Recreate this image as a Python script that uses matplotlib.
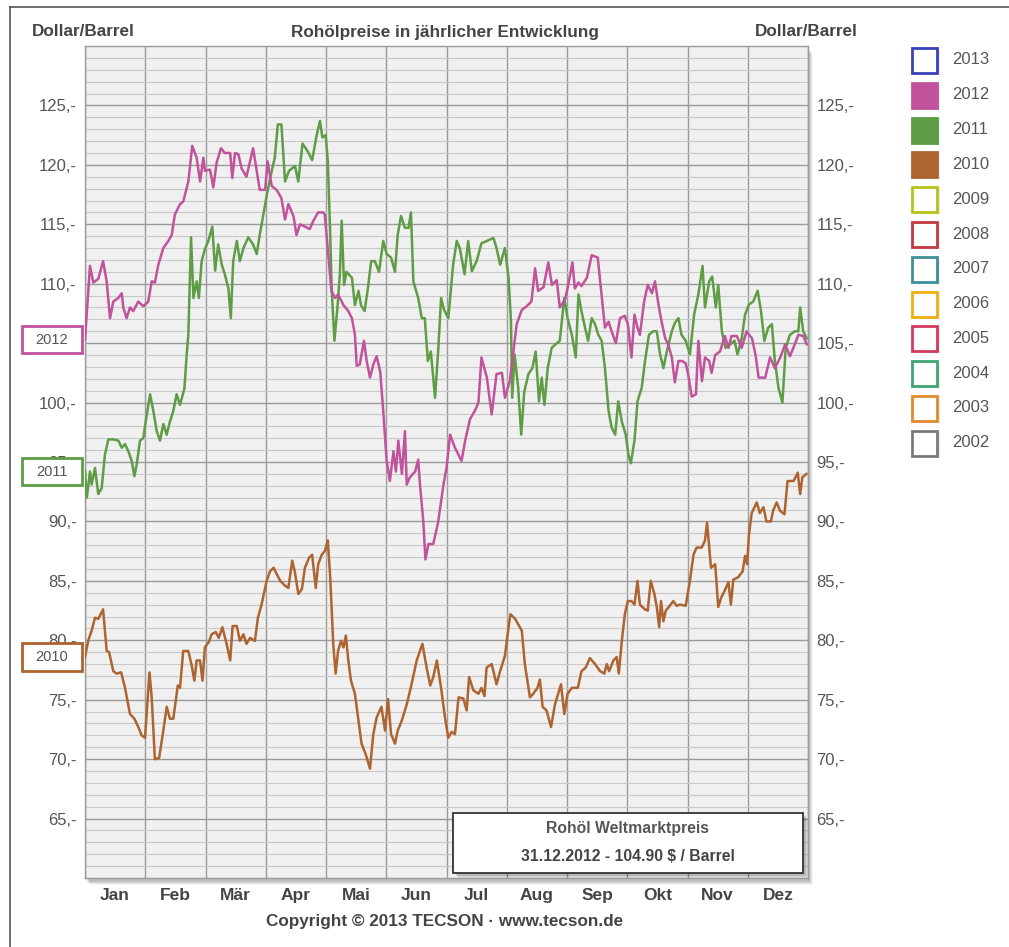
import matplotlib
matplotlib.use("Agg")
import matplotlib.pyplot as plt
import matplotlib.transforms as mtransforms
from matplotlib.patches import Rectangle
from matplotlib.lines import Line2D

plt.rcParams['font.family'] = ['Liberation Sans', 'DejaVu Sans']

# ---- data (x = position in the year in months, y = Dollar/Barrel) ----
months = ['Jan', 'Feb', 'Mär', 'Apr', 'Mai', 'Jun', 'Jul', 'Aug', 'Sep', 'Okt', 'Nov', 'Dez']

x2012 = [0, 0.083, 0.138, 0.22, 0.30, 0.36, 0.415, 0.47, 0.553, 0.61, 0.636, 0.69, 0.747, 0.80, 0.885,
         0.968, 1.05, 1.107, 1.16, 1.217, 1.30, 1.383, 1.44, 1.49, 1.577, 1.63, 1.715, 1.78, 1.853, 1.91,
         1.964, 1.99, 2.075, 2.13, 2.185, 2.257, 2.32, 2.41, 2.445, 2.49, 2.545, 2.60, 2.68, 2.79, 2.90,
         2.99, 3.03, 3.10, 3.18, 3.26, 3.32, 3.375, 3.46, 3.51, 3.57, 3.65, 3.73, 3.79, 3.87, 3.955, 3.98,
         4.09, 4.15, 4.20, 4.29, 4.37, 4.43, 4.48, 4.51, 4.56, 4.63, 4.675, 4.73, 4.785, 4.84, 4.90, 4.95,
         5.007, 5.06, 5.12, 5.16, 5.20, 5.26, 5.31, 5.34, 5.39, 5.48, 5.53, 5.56, 5.615, 5.65, 5.70, 5.78,
         5.86, 5.95, 6.00, 6.06, 6.14, 6.25, 6.31, 6.39, 6.47, 6.53, 6.58, 6.67, 6.75, 6.83, 6.92, 6.97,
         7.05, 7.11, 7.165, 7.25, 7.33, 7.41, 7.47, 7.52, 7.61, 7.69, 7.75, 7.83, 7.88, 7.97, 8.02, 8.09,
         8.13, 8.19, 8.24, 8.33, 8.41, 8.51, 8.58, 8.63, 8.69, 8.74, 8.81, 8.88, 8.96, 9.01, 9.07, 9.12,
         9.17, 9.21, 9.28, 9.34, 9.41, 9.46, 9.52, 9.57, 9.63, 9.68, 9.74, 9.79, 9.85, 9.91, 9.97, 10.01,
         10.07, 10.14, 10.18, 10.24, 10.29, 10.36, 10.40, 10.46, 10.54, 10.62, 10.68, 10.73, 10.82, 10.90,
         10.98, 11.07, 11.13, 11.18, 11.29, 11.37, 11.45, 11.54, 11.62, 11.70, 11.78, 11.84, 11.92, 11.98]
y2012 = [105.3, 111.5, 110.1, 110.4, 111.9, 110.2, 107.1, 108.5, 108.8, 109.2, 108.0, 107.1, 108.0, 107.7, 108.5,
         108.1, 108.5, 110.2, 110.1, 111.6, 113.0, 113.6, 114.1, 115.8, 116.7, 116.9, 118.6, 121.6, 120.6, 118.6,
         120.6, 119.5, 119.6, 118.1, 120.2, 121.4, 121.0, 121.0, 118.9, 121.0, 120.9, 119.7, 119.0, 121.4, 117.9,
         117.9, 120.3, 118.2, 117.9, 117.2, 115.4, 116.7, 115.7, 114.1, 115.0, 114.8, 114.6, 115.3, 116.0, 116.0, 115.8,
         109.4, 108.8, 109.1, 108.2, 107.7, 107.1, 105.7, 103.1, 103.2, 105.2, 103.5, 102.1, 103.2, 103.9, 102.6, 99.3,
         95.1, 93.4, 95.9, 94.2, 96.8, 94.0, 97.6, 93.1, 93.7, 94.2, 95.2, 93.1, 90.0, 86.8, 88.1, 88.1,
         89.9, 93.1, 94.5, 97.3, 96.2, 95.1, 96.8, 98.6, 99.3, 100.0, 103.8, 102.1, 99.0, 102.4, 102.5, 100.4,
         101.8, 104.3, 106.6, 107.8, 108.1, 108.5, 111.3, 109.4, 109.7, 111.8, 109.9, 110.3, 108.0, 108.7, 109.9, 111.8,
         109.6, 110.1, 109.8, 110.5, 112.4, 112.2, 108.8, 106.3, 106.8, 106.0, 105.0, 107.1, 107.3, 106.6, 103.8, 107.4,
         106.3, 105.7, 108.5, 109.9, 109.2, 110.2, 108.2, 106.8, 105.4, 104.9, 103.8, 101.7, 103.5, 103.5, 103.3, 102.4,
         100.5, 100.7, 105.2, 101.8, 103.8, 103.5, 102.5, 104.0, 104.3, 105.6, 104.6, 105.6, 105.6, 104.6,
         106.0, 105.4, 104.0, 102.1, 102.1, 103.8, 102.9, 103.8, 104.9, 103.9, 104.9, 105.7, 105.6, 104.9]

x2011 = [0, 0.03, 0.083, 0.11, 0.166, 0.22, 0.277, 0.33, 0.387, 0.47, 0.553, 0.61, 0.664, 0.72, 0.775, 0.82,
         0.858, 0.913, 0.968, 1.007, 1.08, 1.134, 1.19, 1.245, 1.30, 1.356, 1.41, 1.466, 1.52, 1.577, 1.65,
         1.687, 1.715, 1.76, 1.80, 1.853, 1.89, 1.936, 1.99, 2.047, 2.113, 2.16, 2.21, 2.27, 2.32, 2.38, 2.42,
         2.46, 2.52, 2.57, 2.63, 2.71, 2.79, 2.85, 2.90, 2.96, 3.03, 3.10, 3.15, 3.20, 3.26, 3.32, 3.386,
         3.485, 3.54, 3.61, 3.70, 3.77, 3.845, 3.90, 3.94, 3.995, 4.03, 4.07, 4.094, 4.14, 4.19, 4.23, 4.26,
         4.30, 4.34, 4.43, 4.48, 4.54, 4.58, 4.64, 4.69, 4.75, 4.81, 4.88, 4.95, 5.007, 5.08, 5.145, 5.19,
         5.245, 5.31, 5.37, 5.41, 5.45, 5.53, 5.59, 5.64, 5.69, 5.74, 5.81, 5.865, 5.91, 5.96, 6.03, 6.11,
         6.17, 6.22, 6.30, 6.36, 6.42, 6.50, 6.58, 6.67, 6.78, 6.83, 6.89, 6.97, 7.03, 7.07, 7.09, 7.13,
         7.19, 7.24, 7.29, 7.36, 7.425, 7.48, 7.535, 7.58, 7.625, 7.68, 7.745, 7.81, 7.88, 7.955, 8.01, 8.08,
         8.145, 8.19, 8.24, 8.30, 8.35, 8.41, 8.465, 8.52, 8.575, 8.63, 8.69, 8.74, 8.80, 8.85, 8.91, 8.975,
         9.02, 9.06, 9.12, 9.17, 9.24, 9.295, 9.36, 9.43, 9.49, 9.545, 9.60, 9.67, 9.74, 9.79, 9.85, 9.90,
         9.97, 10.04, 10.11, 10.18, 10.25, 10.29, 10.36, 10.41, 10.47, 10.51, 10.57, 10.63, 10.71, 10.78,
         10.83, 10.90, 10.955, 11.02, 11.09, 11.165, 11.22, 11.275, 11.34, 11.40, 11.45, 11.51, 11.575,
         11.63, 11.70, 11.78, 11.84, 11.87, 11.92, 11.98]
y2011 = [94.2, 92.0, 94.2, 93.1, 94.5, 92.3, 92.8, 95.6, 96.9, 96.9, 96.8, 96.2, 96.5, 95.9, 95.1, 93.8,
         94.8, 96.8, 97.0, 98.4, 100.7, 99.3, 97.6, 96.8, 98.2, 97.3, 98.4, 99.3, 100.7, 99.8, 101.2,
         104.0, 105.7, 113.9, 108.8, 110.2, 108.8, 111.9, 112.9, 113.6, 114.8, 111.1, 113.3, 111.6, 110.8, 109.6, 107.1,
         111.9, 113.6, 111.9, 113.0, 113.9, 113.3, 112.5, 114.1, 115.8, 117.8, 119.5, 120.6, 123.4, 123.4, 118.6, 119.5,
         119.9, 118.6, 121.8, 121.1, 120.4, 122.5, 123.7, 122.3, 122.5, 120.3, 114.1, 109.6, 105.2, 108.0, 110.8, 115.3,
         109.9, 111.0, 110.5, 108.2, 109.4, 108.2, 107.7, 109.4, 111.9, 111.9, 111.0, 113.6, 112.5, 112.2, 111.0, 114.1,
         115.7, 114.7, 114.7, 116.0, 110.2, 108.8, 107.1, 107.1, 103.5, 104.3, 100.4, 104.6, 108.8, 107.8, 107.1, 111.6,
         113.6, 113.0, 110.8, 113.6, 111.05, 111.9, 113.4, 113.6, 113.85, 113.0, 111.6, 113.0, 110.5, 106.85, 100.4, 104.05,
         101.25, 97.3, 100.9, 102.4, 102.9, 104.3, 100.1, 102.1, 99.8, 102.9, 104.6, 104.9, 105.2, 108.8, 107.1, 105.7,
         103.8, 109.1, 107.7, 106.3, 105.2, 107.1, 106.6, 105.7, 105.2, 102.9, 99.3, 97.9, 97.3, 100.1, 98.4, 97.3,
         95.6, 94.9, 96.8, 100.1, 101.25, 103.5, 105.7, 106.0, 106.0, 104.05, 102.9, 104.6, 106.0, 106.7, 107.1, 105.7,
         105.2, 104.05, 107.4, 109.1, 111.5, 108.0, 110.2, 110.6, 108.0, 109.9, 106.0, 104.6, 104.9, 105.2,
         104.05, 105.4, 107.4, 108.25, 108.5, 109.4, 107.7, 105.2, 106.3, 106.6, 103.5, 101.25, 100.0,
         104.6, 105.7, 106.0, 106.0, 108.0, 106.0, 105.4]

x2010 = [0, 0.055, 0.11, 0.166, 0.22, 0.30, 0.36, 0.40, 0.47, 0.525, 0.60, 0.664, 0.747, 0.82, 0.885, 0.94,
         0.996, 1.07, 1.107, 1.16, 1.23, 1.30, 1.356, 1.41, 1.466, 1.54, 1.577, 1.63, 1.715, 1.77, 1.815,
         1.853, 1.91, 1.95, 1.99, 2.06, 2.10, 2.17, 2.22, 2.28, 2.35, 2.41, 2.45, 2.52, 2.57, 2.63, 2.68,
         2.74, 2.82, 2.87, 2.93, 3.015, 3.07, 3.13, 3.18, 3.24, 3.32, 3.375, 3.44, 3.485, 3.54, 3.60, 3.65,
         3.72, 3.77, 3.83, 3.87, 3.93, 3.98, 4.03, 4.07, 4.12, 4.16, 4.20, 4.25, 4.29, 4.33, 4.37, 4.415,
         4.48, 4.54, 4.59, 4.66, 4.73, 4.785, 4.84, 4.92, 4.98, 5.03, 5.08, 5.145, 5.19, 5.255, 5.34, 5.42,
         5.505, 5.60, 5.67, 5.73, 5.78, 5.84, 5.91, 5.975, 6.03, 6.085, 6.14, 6.20, 6.28, 6.335, 6.375, 6.445,
         6.53, 6.58, 6.63, 6.665, 6.75, 6.83, 6.89, 6.97, 7.015, 7.06, 7.14, 7.25, 7.30, 7.385, 7.44, 7.51,
         7.55, 7.595, 7.66, 7.735, 7.80, 7.90, 7.955, 8.01, 8.08, 8.18, 8.24, 8.31, 8.38, 8.465, 8.55, 8.62,
         8.66, 8.70, 8.77, 8.825, 8.86, 8.91, 8.96, 9.01, 9.07, 9.12, 9.17, 9.21, 9.295, 9.34, 9.39, 9.45,
         9.49, 9.53, 9.56, 9.60, 9.64, 9.69, 9.765, 9.82, 9.875, 9.97, 10.04, 10.10, 10.15, 10.235, 10.29,
         10.325, 10.36, 10.39, 10.46, 10.51, 10.56, 10.62, 10.68, 10.72, 10.76, 10.84, 10.915, 10.955, 10.99,
         11.02, 11.065, 11.15, 11.20, 11.26, 11.31, 11.385, 11.42, 11.48, 11.535, 11.61, 11.66, 11.76, 11.83,
         11.87, 11.905, 11.975]
y2010 = [78.6, 80.0, 80.8, 81.9, 81.8, 82.6, 79.1, 79.0, 77.4, 77.2, 77.3, 76.0, 73.8, 73.4, 72.7, 72.0,
         71.8, 77.3, 75.2, 70.0, 70.1, 72.4, 74.4, 73.4, 73.4, 76.2, 76.0, 79.1, 79.1, 77.9, 76.6,
         78.3, 78.3, 76.6, 79.4, 79.9, 80.5, 80.7, 80.2, 81.1, 79.7, 78.3, 81.2, 81.2, 79.95, 80.5, 79.7,
         80.2, 79.95, 81.9, 83.0, 85.0, 85.8, 86.1, 85.6, 85.0, 84.6, 84.4, 86.7, 85.7, 83.9, 84.3, 86.1,
         86.96, 87.2, 84.4, 86.4, 87.2, 87.5, 88.4, 85.3, 79.7, 77.2, 79.1, 79.95, 79.4, 80.4, 78.3, 76.6,
         75.5, 73.2, 71.3, 70.4, 69.2, 72.1, 73.5, 74.4, 72.4, 75.05, 72.1, 71.3, 72.4, 73.2, 74.6, 76.3,
         78.3, 79.7, 77.7, 76.2, 76.9, 78.3, 76.0, 73.5, 71.8, 72.3, 72.1, 75.2, 75.1, 74.1, 76.9, 75.8,
         75.5, 76.0, 75.3, 77.7, 78.0, 76.3, 77.4, 78.7, 80.5, 82.2, 81.8, 80.8, 78.0, 75.2, 75.5, 76.0,
         76.7, 74.4, 74.1, 72.7, 74.6, 76.3, 73.8, 75.5, 76.0, 76.0, 77.4, 77.7, 78.5, 78.0, 77.4, 77.2,
         78.0, 77.4, 78.3, 78.6, 77.2, 79.96, 82.2, 83.3, 83.3, 83.0, 85.0, 83.0, 82.6, 82.5, 85.0, 83.9,
         82.8, 81.1, 83.3, 81.6, 82.5, 82.8, 83.3, 82.9, 83.0, 82.9, 85.0, 87.2, 87.8, 87.8, 88.4,
         89.9, 87.8, 86.1, 86.4, 82.8, 83.6, 84.2, 84.9, 83.0, 85.1, 85.3, 85.8, 87.1, 86.4,
         88.9, 90.7, 91.6, 90.7, 91.2, 90.0, 90.0, 90.9, 91.6, 90.9, 90.6, 93.4, 93.4, 94.1,
         92.3, 93.7, 94.0]

series = [('2010', x2010, y2010, '#ad6430'),
          ('2011', x2011, y2011, '#5e9d45'),
          ('2012', x2012, y2012, '#c1529c')]

legend_years = ['2013', '2012', '2011', '2010', '2009', '2008', '2007', '2006', '2005', '2004', '2003', '2002']
legend_colors = ['#3a42b8', '#c1529c', '#5e9d45', '#ad6430', '#b6c21a', '#c4383f', '#3f8f98', '#ecb10e',
                 '#d43a5c', '#3fa571', '#e18a2e', '#7a7a7a']
legend_filled = ['2012', '2011', '2010']

y_ticks = list(range(65, 126, 5))
info_title = 'Rohöl Weltmarktpreis'
info_value = '31.12.2012 - 104.90 $ / Barrel'

# ---- figure ----
W, H = 1009, 947
fig = plt.figure(figsize=(W / 100, H / 100), dpi=100)


def fx(px):
    return px / W


def fy(py):
    return 1 - py / H


ax = fig.add_axes([fx(85), fy(878), fx(808) - fx(85), fy(46) - fy(878)])
ax.set_facecolor('#f0f0f0')

# drop shadow of the plot area
for i, a in enumerate([0.10, 0.08, 0.06, 0.04]):
    fig.add_artist(Rectangle((fx(87 + i), fy(882 + i)), fx(723), fy(0) - fy(832),
                             transform=fig.transFigure, fc='#000000', ec='none', alpha=a, zorder=-1))

for name, xs, ys, col in series:
    ax.plot(xs, ys, color=col, lw=1.8, zorder=3)

ax.set_xlim(0, 12)
ax.set_ylim(60, 130)
ax.set_xticks(range(0, 13))
ax.set_xticklabels([])
ax.set_xticks([i + 0.5 for i in range(12)], minor=True)
ax.set_xticklabels(months, minor=True, fontsize=12.5, fontweight='bold', color='#444444')
ax.set_yticks(y_ticks)
ax.set_yticklabels([f'{v},-' for v in y_ticks], fontsize=12, color='#555555')
ax.set_yticks(range(60, 131), minor=True)
ax.tick_params(axis='both', which='both', length=0)
ax.tick_params(axis='y', which='major', labelright=True, pad=6)
ax.tick_params(axis='x', which='minor', pad=7)
ax.grid(True, which='major', color='#9a9a9a', lw=1.0, zorder=1)
ax.yaxis.grid(True, which='minor', color='#c9c9c9', lw=0.8)
ax.set_axisbelow(True)
for sp in ax.spines.values():
    sp.set_color('#9a9a9a')
    sp.set_linewidth(1.0)

# year boxes at the start value of each line
bt = mtransforms.blended_transform_factory(ax.transAxes, ax.transData)
for name, xs, ys, col in series:
    ax.add_patch(Rectangle((-0.0871, ys[0] - 1.17), 0.083, 2.34, transform=bt, clip_on=False,
                           fc='white', ec=col, lw=2, zorder=5))
    ax.text(-0.0456, ys[0], name, transform=bt, ha='center', va='center', fontsize=10.5,
            color='#555555', zorder=6, clip_on=False)

# titles
fig.text(fx(32), fy(32), 'Dollar/Barrel', ha='left', va='center', fontsize=12.3,
         fontweight='bold', color='#444444')
fig.text(fx(755), fy(32), 'Dollar/Barrel', ha='left', va='center', fontsize=12.3,
         fontweight='bold', color='#444444')
fig.text(fx(445), fy(32), 'Rohölpreise in jährlicher Entwicklung', ha='center', va='center',
         fontsize=12.3, fontweight='bold', color='#444444')
fig.text(fx(445), fy(921), 'Copyright © 2013 TECSON · www.tecson.de', ha='center', va='center',
         fontsize=12.3, fontweight='bold', color='#444444')

# info box
for i, a in enumerate([0.12, 0.08, 0.05]):
    fig.add_artist(Rectangle((fx(456 + i), fy(876 + i)), fx(350), fy(0) - fy(60),
                             transform=fig.transFigure, fc='#000000', ec='none', alpha=a, zorder=4))
fig.add_artist(Rectangle((fx(453), fy(873)), fx(350), fy(0) - fy(60), transform=fig.transFigure,
                         fc='white', ec='#333333', lw=1.3, zorder=5))
fig.text(fx(628), fy(828), info_title, ha='center', va='center', fontsize=11.3,
         fontweight='bold', color='#555555', zorder=6)
fig.text(fx(628), fy(856), info_value, ha='center', va='center', fontsize=11.3,
         fontweight='bold', color='#444444', zorder=6)

# legend on the right
for i, (yr, col) in enumerate(zip(legend_years, legend_colors)):
    cy = 60 + i * 34.8
    fig.add_artist(Rectangle((fx(914), fy(cy + 15)), fx(26), fy(0) - fy(26), transform=fig.transFigure,
                             fc='#000000', ec='none', alpha=0.08, zorder=4))
    fig.add_artist(Rectangle((fx(912), fy(cy + 13)), fx(25), fy(0) - fy(25), transform=fig.transFigure,
                             fc=col if yr in legend_filled else 'white', ec=col, lw=2, zorder=5))
    fig.text(fx(952), fy(cy), yr, ha='left', va='center', fontsize=12, color='#555555')

# outer frame
fig.add_artist(Line2D([fx(10), fx(10)], [fy(7), fy(947)], transform=fig.transFigure, color='#555555', lw=1.2))
fig.add_artist(Line2D([fx(10), fx(1009)], [fy(7), fy(7)], transform=fig.transFigure, color='#555555', lw=1.2))

fig.savefig('out.png', dpi=100)
